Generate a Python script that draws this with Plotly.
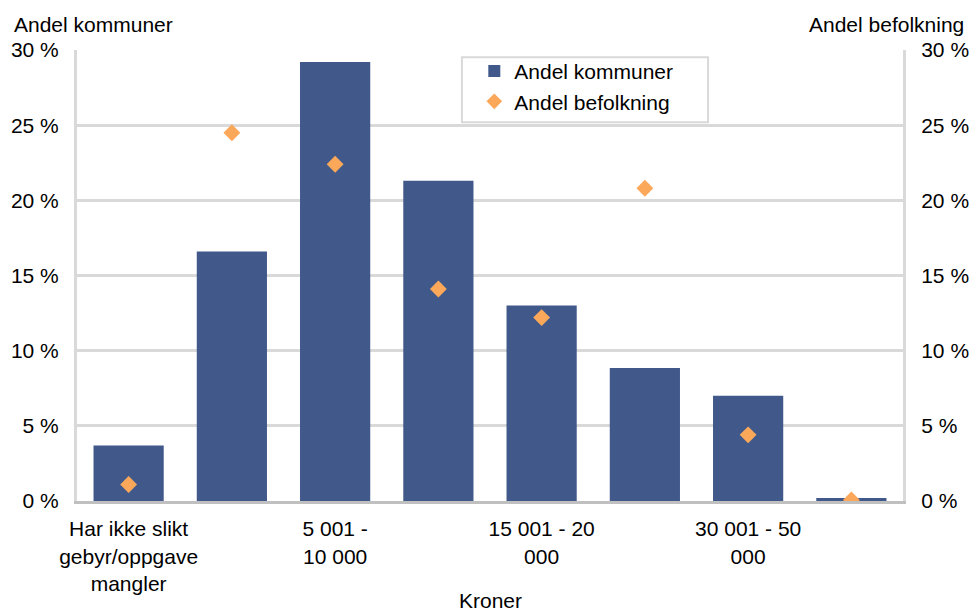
import plotly.graph_objects as go

categories = ["Har ikke slikt gebyr/oppgave mangler", "1 - 5 000", "5 001 - 10 000",
              "10 001 - 15 000", "15 001 - 20 000", "20 001 - 30 000",
              "30 001 - 50 000", "Over 50 000"]
shown_ticks = ["Har ikke slikt gebyr/oppgave mangler", "5 001 - 10 000",
               "15 001 - 20 000", "30 001 - 50 000"]
shown_text = ["Har ikke slikt<br>gebyr/oppgave<br>mangler", "5 001 -<br>10 000",
              "15 001 - 20<br>000", "30 001 - 50<br>000"]
andel_kommuner = [3.7, 16.6, 29.2, 21.3, 13.0, 8.85, 7.0, 0.2]
andel_befolkning = [1.1, 24.5, 22.4, 14.1, 12.2, 20.8, 4.4, 0.07]
y_ticks = [0, 5, 10, 15, 20, 25, 30]

FONT = "Liberation Sans, Arial, sans-serif"
FS = 21

fig = go.Figure()
fig.add_trace(go.Bar(x=categories, y=andel_kommuner, name="Andel kommuner",
                     marker=dict(color="#41598a", line=dict(width=0))))
fig.add_trace(go.Scatter(x=categories, y=andel_befolkning, name="Andel befolkning",
                         mode="markers", yaxis="y2",
                         marker=dict(symbol="diamond", size=13, color="#fca85a")))

fig.update_layout(
    width=971, height=610,
    margin=dict(l=77, r=68, t=50, b=109, autoexpand=False),
    paper_bgcolor="white", plot_bgcolor="white",
    font=dict(family=FONT, size=FS, color="#000000"),
    bargap=0.32,
    showlegend=True,
    legend=dict(x=0.481, y=0.998, xanchor="left", yanchor="top",
                borderwidth=0, bgcolor="rgba(0,0,0,0)",
                font=dict(size=FS), itemsizing="constant"),
    xaxis=dict(type="category", tickmode="array", tickvals=shown_ticks, ticktext=shown_text,
               showline=True, linecolor="#c0c0c0", linewidth=3, showgrid=False, automargin=False,
               ticks="", ticklabelstandoff=7, tickfont=dict(size=FS), range=[-0.5, 7.5]),
    yaxis=dict(range=[0, 30], tickvals=y_ticks, ticktext=[f"{v} %" for v in y_ticks],
               showgrid=True, gridcolor="#d9d9d9", gridwidth=3, automargin=False,
               showline=True, linecolor="#d9d9d9", linewidth=3, zeroline=False,
               ticks="", ticklabelstandoff=11, tickfont=dict(size=FS)),
    yaxis2=dict(range=[0, 30], tickvals=y_ticks, ticktext=[f"{v} %" for v in y_ticks],
                overlaying="y", side="right", showgrid=False, automargin=False,
                showline=True, linecolor="#d9d9d9", linewidth=3, zeroline=False,
                ticks="", ticklabelstandoff=11, tickfont=dict(size=FS)),
    shapes=[
        dict(type="rect", xref="paper", yref="paper", x0=0.466, x1=0.764, y0=0.840, y1=0.984,
             line=dict(color="#d9d9d9", width=2), fillcolor="white", layer="below"),
    ],
    annotations=[
        dict(text="Andel kommuner", xref="paper", yref="paper", x=-0.079, y=1.0,
             xanchor="left", yanchor="bottom", yshift=12, showarrow=False, font=dict(size=FS)),
        dict(text="Andel befolkning", xref="paper", yref="paper", x=1.0, y=1.0,
             xanchor="right", yanchor="bottom", xshift=63, yshift=12, showarrow=False, font=dict(size=FS)),
        dict(text="Kroner", xref="paper", yref="paper", x=0.5, y=0,
             xanchor="center", yanchor="top", yshift=-86, showarrow=False, font=dict(size=FS)),
    ],
)

fig.write_html("out.html", config={"displayModeBar": False},
               post_script="document.body.style.margin='0';document.body.style.overflow='hidden';")
